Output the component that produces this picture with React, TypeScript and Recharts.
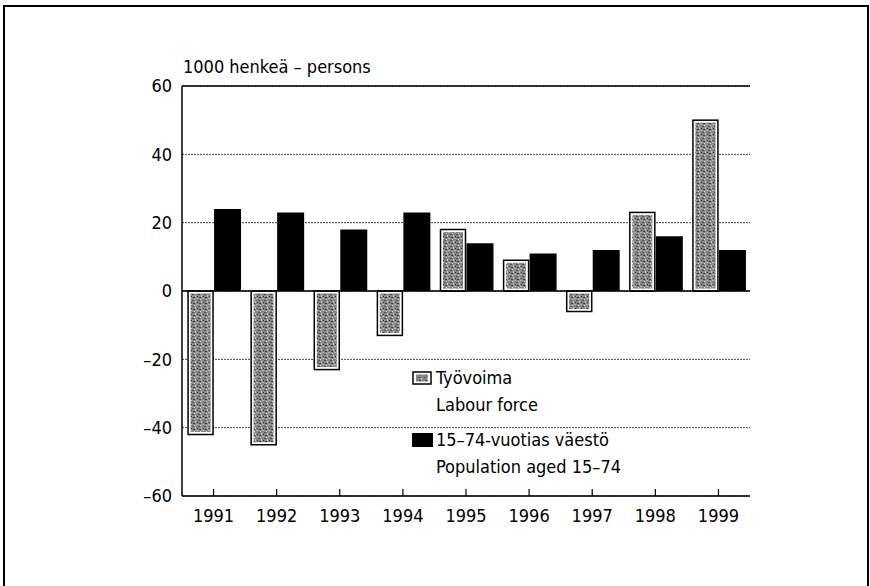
import React from 'react';
import {
  BarChart,
  Bar,
  XAxis,
  YAxis,
  CartesianGrid,
  ReferenceLine,
} from 'recharts';

const years = ['1991', '1992', '1993', '1994', '1995', '1996', '1997', '1998', '1999'];
const labourForce = [-42, -45, -23, -13, 18, 9, -6, 23, 50];
const population = [24, 23, 18, 23, 14, 11, 12, 16, 12];
const yTicks = [-60, -40, -20, 0, 20, 40, 60];

const data = years.map((year, i) => ({
  year,
  labour: labourForce[i],
  population: population[i],
}));

const FONT = '"Liberation Sans Narrow", "DejaVu Sans Condensed", "Liberation Sans", Arial, sans-serif';

const fmt = (v: number) => (v < 0 ? '–' + Math.abs(v) : String(v));

// gray grainy fill used for the labour force bars
const Texture = () => (
  <defs>
    <pattern id="tex" width="6" height="6" patternUnits="userSpaceOnUse">
      <rect width="6" height="6" fill="#888" />
      <rect x="0" y="0" width="2" height="1" fill="#505050" />
      <rect x="3" y="1" width="1" height="2" fill="#c4c4c4" />
      <rect x="1" y="3" width="2" height="1" fill="#404040" />
      <rect x="4" y="4" width="2" height="1" fill="#b4b4b4" />
      <rect x="5" y="2" width="1" height="1" fill="#303030" />
      <rect x="2" y="5" width="1" height="1" fill="#d8d8d8" />
    </pattern>
  </defs>
);

const LabourShape = (props: any) => {
  const { x, y, width, height } = props;
  const top = Math.min(y, y + height);
  const h = Math.abs(height);
  return (
    <g>
      <rect x={x + 1} y={top} width={width - 2} height={h} fill="#fff" stroke="#000" strokeWidth={1.5} />
      <rect x={x + 3.5} y={top + 2.5} width={Math.max(width - 7, 0)} height={Math.max(h - 5, 0)} fill="url(#tex)" />
    </g>
  );
};

const YearTick = (props: any) => {
  const { x, y, payload } = props;
  return (
    <g>
      <line x1={x} x2={x} y1={y} y2={y - 7} stroke="#000" strokeWidth={1.2} />
      <text x={x} y={y + 26} textAnchor="middle" fontSize={18} fontFamily={FONT} fill="#000">
        {payload.value}
      </text>
    </g>
  );
};

// legend drawn as an overlay inside the plot, like the original
const LegendBox = () => (
  <div
    style={{
      position: 'absolute',
      left: 412,
      top: 364,
      fontFamily: FONT,
      fontSize: 18,
      color: '#000',
      lineHeight: '27px',
    }}
  >
    <div style={{ display: 'flex', alignItems: 'center' }}>
      <svg width={20} height={14} style={{ marginRight: 4 }}>
        <defs>
          <pattern id="texl" width="6" height="6" patternUnits="userSpaceOnUse">
            <rect width="6" height="6" fill="#888" />
            <rect x="0" y="0" width="2" height="1" fill="#505050" />
            <rect x="3" y="1" width="1" height="2" fill="#c4c4c4" />
            <rect x="1" y="3" width="2" height="1" fill="#404040" />
          </pattern>
        </defs>
        <rect x={1} y={1} width={18} height={12} fill="#fff" stroke="#000" strokeWidth={1.5} />
        <rect x={4} y={3.5} width={12} height={7} fill="url(#texl)" />
      </svg>
      <span>Työvoima</span>
    </div>
    <div style={{ paddingLeft: 24 }}>Labour force</div>
    <div style={{ display: 'flex', alignItems: 'center', marginTop: 8 }}>
      <svg width={21} height={14} style={{ marginRight: 3 }}>
        <rect x={0} y={0} width={21} height={14} fill="#000" />
      </svg>
      <span>15–74-vuotias väestö</span>
    </div>
    <div style={{ paddingLeft: 24 }}>Population aged 15–74</div>
  </div>
);

export default function App() {
  return (
    <div style={{ position: 'absolute', left: 0, top: 0, width: 870, height: 586, background: '#fff', overflow: 'hidden' }}>
      <div
        style={{
          position: 'absolute',
          left: 3,
          top: 5,
          width: 862,
          height: 600,
          borderLeft: '2px solid #000',
          borderTop: '2px solid #000',
          borderRight: '2px solid #000',
        }}
      />
      <div
        style={{
          position: 'absolute',
          left: 183,
          top: 56,
          fontFamily: FONT,
          fontSize: 18,
          color: '#000',
        }}
      >
        1000 henkeä – persons
      </div>
      <div style={{ position: 'absolute', left: 0, top: 0 }}>
        <BarChart
          width={870}
          height={586}
          data={data}
          margin={{ top: 86, right: 120, bottom: 50, left: 122 }}
          barCategoryGap="8%"
          barGap={0}
        >
          <Texture />
          <CartesianGrid vertical={false} stroke="#444" strokeDasharray="2 1" />
          <XAxis
            dataKey="year"
            height={40}
            axisLine={{ stroke: '#000', strokeWidth: 1.5 }}
            tickLine={false}
            tickSize={0}
            tickMargin={0}
            tick={<YearTick />}
            interval={0}
          />
          <YAxis
            domain={[-60, 60]}
            ticks={yTicks}
            width={60}
            axisLine={{ stroke: '#000', strokeWidth: 1.5 }}
            tickLine={false}
            tickSize={0}
            tickMargin={10}
            tickFormatter={fmt}
            tick={{ fill: '#000', fontSize: 18, fontFamily: FONT }}
          />
          <YAxis
            yAxisId="right"
            orientation="right"
            domain={[-60, 60]}
            width={0}
            tick={false}
            tickLine={false}
            axisLine={{ stroke: '#000', strokeWidth: 1.5 }}
          />
          <ReferenceLine y={60} stroke="#000" strokeWidth={1.5} />
          <ReferenceLine y={0} stroke="#000" strokeWidth={1.5} />
          <Bar dataKey="labour" name="Työvoima" shape={<LabourShape />} isAnimationActive={false} />
          <Bar dataKey="population" name="15–74-vuotias väestö" fill="#000" isAnimationActive={false} />
        </BarChart>
      </div>
      <LegendBox />
    </div>
  );
}
